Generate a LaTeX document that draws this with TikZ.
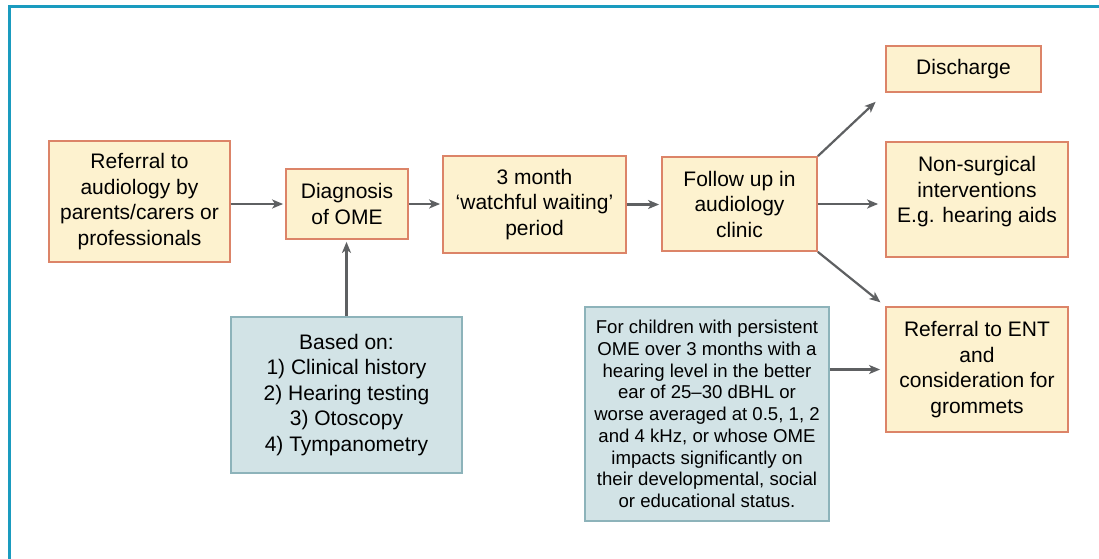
\documentclass[tikz,border=0pt]{standalone}
\usepackage{fontspec}
\setmainfont{Liberation Sans}
\usetikzlibrary{arrows.meta}
\definecolor{boxfill}{HTML}{FDF2CF}
\definecolor{boxline}{HTML}{DC8468}
\definecolor{bluefill}{HTML}{D2E3E6}
\definecolor{blueline}{HTML}{8DB3BA}
\definecolor{framecol}{HTML}{1A9BBF}
\definecolor{arrowcol}{HTML}{5E6062}
\tikzset{
  cream/.style={draw=boxline, fill=boxfill, line width=1.8pt, align=center, inner sep=0pt,
    font=\fontsize{21}{25.5}\selectfont},
  bluebox/.style={draw=blueline, fill=bluefill, line width=1.8pt, align=center, inner sep=0pt,
    font=\fontsize{21}{25.5}\selectfont},
  flow/.style={draw=arrowcol, line width=2.2pt, -{Stealth[length=11pt,width=9pt,inset=3pt]}},
}
\begin{document}
\begin{tikzpicture}[x=1pt,y=-1pt]
\useasboundingbox (0,0) rectangle (1099,558);
\fill[white] (0,0) rectangle (1099,558);
\draw[framecol, line width=3pt] (9,560) -- (9,6) -- (1101,6);

\node[cream, minimum width=181pt, minimum height=121pt] (ref) at (139.5,201.5)
  {Referral to\\audiology by\\parents/carers or\\professionals};
\node[cream, minimum width=122pt, minimum height=70pt] (diag) at (347,204)
  {Diagnosis\\of OME};
\node[cream, minimum width=183pt, minimum height=97pt] (wait) at (534.5,204.5)
  {3 month\\`watchful waiting'\\period};
\node[cream, minimum width=155pt, minimum height=94pt] (follow) at (739.5,204)
  {Follow up in\\audiology\\clinic};
\node[cream, minimum width=155pt, minimum height=46pt] (dis) at (963.5,69)
  {Discharge};
\node[cream, minimum width=182pt, minimum height=115pt] (nons) at (977,199.5)
  {Non-surgical\\interventions\\E.g. hearing aids\rule[-20pt]{0pt}{1pt}};
\node[cream, minimum width=182pt, minimum height=125pt] (ent) at (977,369.5)
  {Referral to ENT\\and\\consideration for\\grommets};
\node[bluebox, minimum width=231pt, minimum height=156pt] (based) at (346.5,395)
  {Based on:\\1) Clinical history\\2) Hearing testing\\3) Otoscopy\\4) Tympanometry};
\node[bluebox, minimum width=244pt, minimum height=214pt,
  font=\fontsize{18.6}{21.75}\selectfont] (child) at (707,414)
  {For children with persistent\\OME over 3 months with a\\hearing level in the better\\ear of 25--30 dBHL or\\worse averaged at 0.5, 1, 2\\and 4 kHz, or whose OME\\impacts significantly on\\their developmental, social\\or educational status.};

\draw[flow, shorten >=2pt] (ref.east |- diag.west) -- (diag.west);
\draw[flow, shorten >=2pt] (diag.east) -- (diag.east -| wait.west);
\draw[flow, shorten >=2pt] (wait.east) -- (wait.east -| follow.west);
\draw[flow, shorten >=2pt] (based.north) -- (based.north |- diag.south);
\draw[flow, shorten >=13pt] (follow.north east) -- (dis.south west);
\draw[flow, shorten >=7pt] (follow.east) -- (follow.east -| nons.west);
\draw[flow, shorten >=6pt] (follow.south east) -- (ent.north west);
\draw[flow, shorten >=5pt] (child.east |- ent.west) -- (ent.west);
\end{tikzpicture}
\end{document}
